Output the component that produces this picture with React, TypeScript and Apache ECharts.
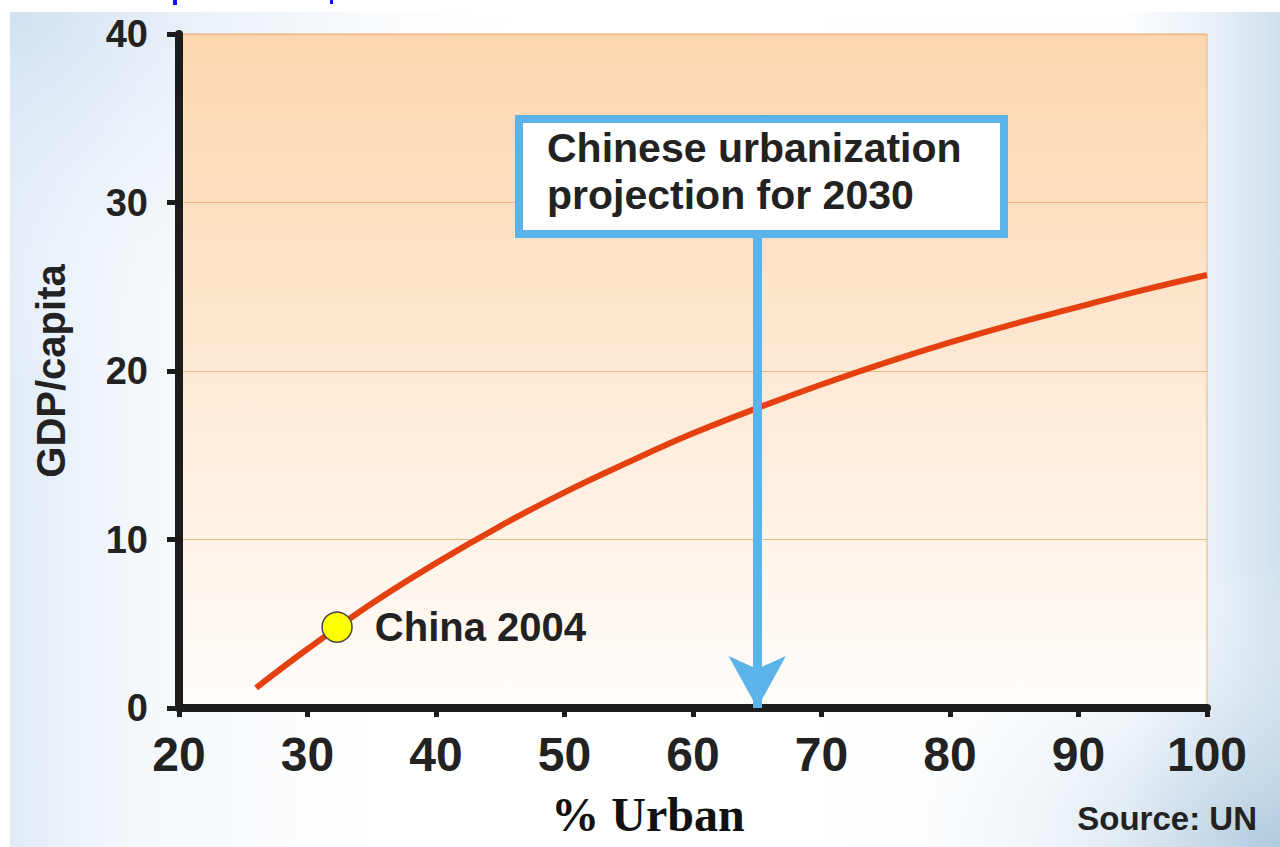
import React, { useEffect, useRef } from "react";
import * as echarts from "echarts";

// ---- data ----
const urbanPct = [26, 30, 35, 40, 45, 50, 55, 60, 65, 70, 75, 80, 85, 90, 95, 100];
const gdpPerCapita = [1.2, 3.5, 6.2, 8.6, 10.8, 12.8, 14.6, 16.3, 17.8, 19.2, 20.5, 21.7, 22.8, 23.8, 24.8, 25.7];
const china2004 = [32.3, 4.8];
const chinaLabel = "China 2004";
const projectionX = 65;
const projectionFrom = 27.9;
const projectionTo = 0;
const projectionLines = ["Chinese urbanization", "projection for 2030"];
const xMin = 20, xMax = 100, xStep = 10;
const yMin = 0, yMax = 40, yStep = 10;
const xName = "% Urban";
const yName = "GDP/capita";
const sourceText = "Source: UN";

const SANS = "'Liberation Sans', Arial, Helvetica, sans-serif";
const SERIF = "'Liberation Serif', 'Times New Roman', serif";

export default function App() {
  const ref = useRef<HTMLDivElement>(null);
  useEffect(() => {
    if (!ref.current) return;
    const chart = echarts.init(ref.current, null, { renderer: "svg" });
    const curve = urbanPct.map((x, i) => [x, gdpPerCapita[i]]);
    chart.setOption({
      animation: false,
      backgroundColor: "#ffffff",
      grid: {
        left: 179,
        right: 73,
        top: 34,
        bottom: 139,
        show: true,
        borderColor: "#efb27c",
        borderWidth: 1,
        backgroundColor: new echarts.graphic.LinearGradient(0, 0, 0, 1, [
          { offset: 0, color: "#fcd7ae" },
          { offset: 0.45, color: "#fde7d1" },
          { offset: 1, color: "#fffdfb" },
        ]),
      },
      xAxis: {
        type: "value",
        min: xMin,
        max: xMax,
        interval: xStep,
        axisLine: { show: true, onZero: false, lineStyle: { color: "#1c1c1c", width: 8 } },
        axisTick: { show: true, length: 9, lineStyle: { color: "#1c1c1c", width: 5 } },
        axisLabel: { fontSize: 48, fontWeight: "bold", color: "#222", fontFamily: SANS, margin: 22 },
        splitLine: { show: false },
        name: xName,
        nameLocation: "middle",
        nameGap: 82,
        nameTextStyle: { fontFamily: SERIF, fontSize: 48, fontWeight: "bold", color: "#111", padding: [0, 90, 0, 0] },
      },
      yAxis: {
        type: "value",
        min: yMin,
        max: yMax,
        interval: yStep,
        axisLine: { show: true, onZero: false, lineStyle: { color: "#1c1c1c", width: 8 } },
        axisTick: { show: true, length: 12, lineStyle: { color: "#1c1c1c", width: 5 } },
        axisLabel: { fontSize: 38, fontWeight: "bold", color: "#222", fontFamily: SANS, margin: 31 },
        splitLine: { show: true, lineStyle: { color: "#f2b47e", width: 1 } },
        name: yName,
        nameLocation: "middle",
        nameRotate: 90,
        nameGap: 108,
        nameTextStyle: { fontFamily: SANS, fontSize: 40, fontWeight: "bold", color: "#222" },
      },
      series: [
        {
          type: "line",
          data: curve,
          smooth: 0.4,
          showSymbol: false,
          lineStyle: { color: "#e5400f", width: 6 },
          z: 3,
        },
        {
          type: "line",
          data: [],
          z: 5,
          markLine: {
            silent: true,
            symbol: ["none", "arrow"],
            symbolSize: [43, 52],
            label: { show: false },
            lineStyle: { color: "#5ab4ea", width: 9, type: "solid" },
            data: [[{ coord: [projectionX, projectionFrom] }, { coord: [projectionX, projectionTo] }]],
          },
        },
        {
          type: "scatter",
          data: [china2004],
          symbolSize: 30,
          z: 6,
          itemStyle: { color: "#ffff00", borderColor: "#444", borderWidth: 1.5, opacity: 1 },
          label: {
            show: true,
            position: "right",
            distance: 22,
            formatter: chinaLabel,
            fontSize: 40,
            fontWeight: "bold",
            color: "#222",
            fontFamily: SANS,
          },
        },
      ],
      graphic: [
        {
          type: "rect",
          z: -10,
          silent: true,
          shape: { x: 10, y: 12, width: 1270, height: 835 },
          style: {
            fill: new echarts.graphic.LinearGradient(0, 0, 1, 0, [
              { offset: 0, color: "#e1ecf7" },
              { offset: 0.1, color: "#f4f8fc" },
              { offset: 0.3, color: "#ffffff" },
              { offset: 0.88, color: "#fdfeff" },
              { offset: 0.95, color: "#e6eff7" },
              { offset: 1, color: "#cfe0ec" },
            ]),
          },
        },
        {
          type: "rect",
          z: -9,
          silent: true,
          shape: { x: 10, y: 12, width: 1270, height: 835 },
          style: {
            fill: new echarts.graphic.RadialGradient(0, 0, 0.45, [
              { offset: 0, color: "rgba(205,222,240,0.8)" },
              { offset: 1, color: "rgba(255,255,255,0)" },
            ]),
          },
        },
        {
          type: "rect",
          z: -9,
          silent: true,
          shape: { x: 10, y: 12, width: 1270, height: 835 },
          style: {
            fill: new echarts.graphic.RadialGradient(1, 1, 0.35, [
              { offset: 0, color: "rgba(170,198,220,0.85)" },
              { offset: 1, color: "rgba(255,255,255,0)" },
            ]),
          },
        },
        { type: "rect", silent: true, shape: { x: 173, y: 0, width: 4, height: 5 }, style: { fill: "#1414ee" } },
        { type: "rect", silent: true, shape: { x: 330, y: 0, width: 3, height: 4 }, style: { fill: "#1414ee" } },
        {
          type: "rect",
          z: 100,
          silent: true,
          shape: { x: 519, y: 119, width: 485, height: 115 },
          style: { fill: "#ffffff", stroke: "#5ab4ea", lineWidth: 8 },
        },
        {
          type: "text",
          z: 101,
          silent: true,
          style: {
            text: projectionLines.join("\n"),
            x: 547,
            y: 171,
            fill: "#222",
            fontSize: 41,
            lineHeight: 47,
            fontWeight: "bold",
            fontFamily: SANS,
            textAlign: "left",
            textVerticalAlign: "middle",
          },
        },
        {
          type: "text",
          z: 101,
          silent: true,
          style: {
            text: sourceText,
            x: 1257,
            y: 818,
            fill: "#222",
            fontSize: 33,
            fontWeight: "bold",
            fontFamily: SANS,
            textAlign: "right",
            textVerticalAlign: "middle",
          },
        },
      ],
    });
    return () => chart.dispose();
  }, []);
  return <div ref={ref} style={{ position: "fixed", left: 0, top: 0, width: 1280, height: 847 }} />;
}
